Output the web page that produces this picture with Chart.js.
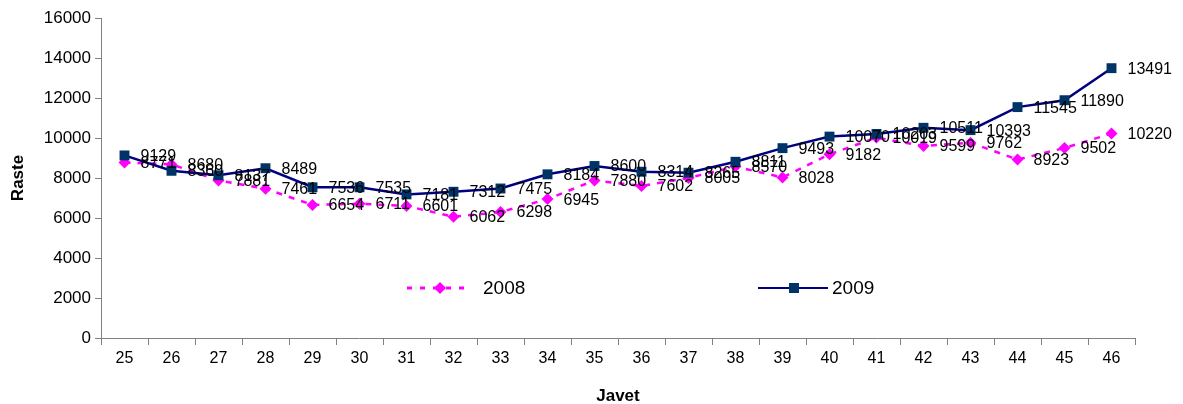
<!DOCTYPE html>
<html>
<head>
<meta charset="utf-8">
<script src="https://cdn.jsdelivr.net/npm/chart.js@4"></script>
<style>
  body { margin: 0; background: #fff; }
  #graph { display: block; }
</style>
</head>
<body>
<canvas id="graph" width="1183" height="404"></canvas>
<script>
var javet = ['25','26','27','28','29','30','31','32','33','34','35','36','37','38','39','40','41','42','43','44','45','46'];
var raste_2008 = [8771, 8680, 7881, 7461, 6654, 6711, 6601, 6062, 6298, 6945, 7880, 7602, 8005, 8570, 8028, 9182, 10019, 9599, 9762, 8923, 9502, 10220];
var raste_2009 = [9129, 8360, 8137, 8489, 7536, 7535, 7181, 7312, 7475, 8184, 8600, 8314, 8265, 8811, 9493, 10070, 10203, 10511, 10393, 11545, 11890, 13491];
var y_ticks = [0, 2000, 4000, 6000, 8000, 10000, 12000, 14000, 16000];

var font_name = "'Liberation Sans', Arial, sans-serif";
var rose = '#ff00ff';
var bleu_ligne = '#000080';
var bleu_point = '#003366';

// valeurs a droite de chaque point
var etiquettes = {
  id: 'etiquettes',
  afterDatasetsDraw: function(chart) {
    var ctx = chart.ctx;
    ctx.save();
    ctx.font = '16px ' + font_name;
    ctx.fillStyle = '#000';
    ctx.textAlign = 'left';
    ctx.textBaseline = 'middle';
    [0, 1].forEach(function(i) {
      var meta = chart.getDatasetMeta(i);
      var valeurs = chart.data.datasets[i].data;
      meta.data.forEach(function(pt, j) {
        ctx.fillText(valeurs[j], pt.x + 16, pt.y + 1);
      });
    });
    ctx.restore();
  }
};

// legende dans la zone du graphique
var legende = {
  id: 'legende',
  afterDraw: function(chart) {
    var ctx = chart.ctx;
    var y = 288;
    ctx.save();
    // 2008
    ctx.strokeStyle = rose;
    ctx.lineWidth = 3;
    ctx.setLineDash([5, 8]);
    ctx.beginPath(); ctx.moveTo(407, y); ctx.lineTo(470, y); ctx.stroke();
    ctx.setLineDash([]);
    ctx.fillStyle = rose;
    ctx.beginPath();
    ctx.moveTo(440, y - 6); ctx.lineTo(446, y); ctx.lineTo(440, y + 6); ctx.lineTo(434, y);
    ctx.closePath(); ctx.fill();
    // 2009
    ctx.strokeStyle = bleu_ligne;
    ctx.lineWidth = 2;
    ctx.beginPath(); ctx.moveTo(758, y); ctx.lineTo(828, y); ctx.stroke();
    ctx.fillStyle = bleu_point;
    ctx.fillRect(789, y - 5, 10, 10);
    ctx.font = '19px ' + font_name;
    ctx.fillStyle = '#000';
    ctx.textBaseline = 'middle';
    ctx.fillText('2008', 483, y + 1);
    ctx.fillText('2009', 832, y + 1);
    ctx.restore();
  }
};

var ctx = document.getElementById('graph').getContext('2d');
var graph = new Chart(ctx, {
  type: 'line',
  data: {
    labels: javet,
    datasets: [{
      label: '2008',
      data: raste_2008,
      borderColor: rose,
      backgroundColor: rose,
      borderWidth: 2.5,
      borderDash: [6, 7],
      pointStyle: 'rectRot',
      pointRadius: 6,
      pointBorderWidth: 0,
      tension: 0,
      order: 1
    }, {
      label: '2009',
      data: raste_2009,
      borderColor: bleu_ligne,
      backgroundColor: bleu_point,
      pointBorderColor: bleu_point,
      borderWidth: 2.5,
      pointStyle: 'rect',
      pointRadius: 7,
      pointBorderWidth: 0,
      tension: 0,
      order: 0
    }]
  },
  options: {
    responsive: false,
    animation: false,
    layout: { padding: { left: 0, right: 48, top: 18, bottom: 0 } },
    plugins: {
      legend: { display: false },
      tooltip: { enabled: false }
    },
    scales: {
      x: {
        offset: true,
        grid: { offset: true, drawOnChartArea: false, tickLength: 7, color: '#808080' },
        border: { color: '#808080', width: 1 },
        ticks: { color: '#000', font: { family: font_name, size: 16 }, padding: 4, maxRotation: 0 },
        title: { display: true, text: 'Javet', color: '#000', font: { family: font_name, size: 17, weight: 'bold' }, padding: { top: 0, bottom: -3 } },
        afterFit: function(s) { s.height = 66; }
      },
      y: {
        min: 0,
        max: 16000,
        afterBuildTicks: function(s) { s.ticks = y_ticks.map(function(v) { return { value: v }; }); },
        grid: { drawOnChartArea: false, tickLength: 6, color: '#808080' },
        border: { color: '#808080', width: 1 },
        ticks: {
          color: '#000', font: { family: font_name, size: 17 }, padding: 4,
          callback: function(v) { return String(v); }
        },
        title: { display: true, text: 'Raste', color: '#000', font: { family: font_name, size: 17, weight: 'bold' }, padding: { top: 8, bottom: 20 } },
        afterFit: function(s) { s.width = 101; }
      }
    }
  },
  plugins: [etiquettes, legende]
});
</script>
</body>
</html>
